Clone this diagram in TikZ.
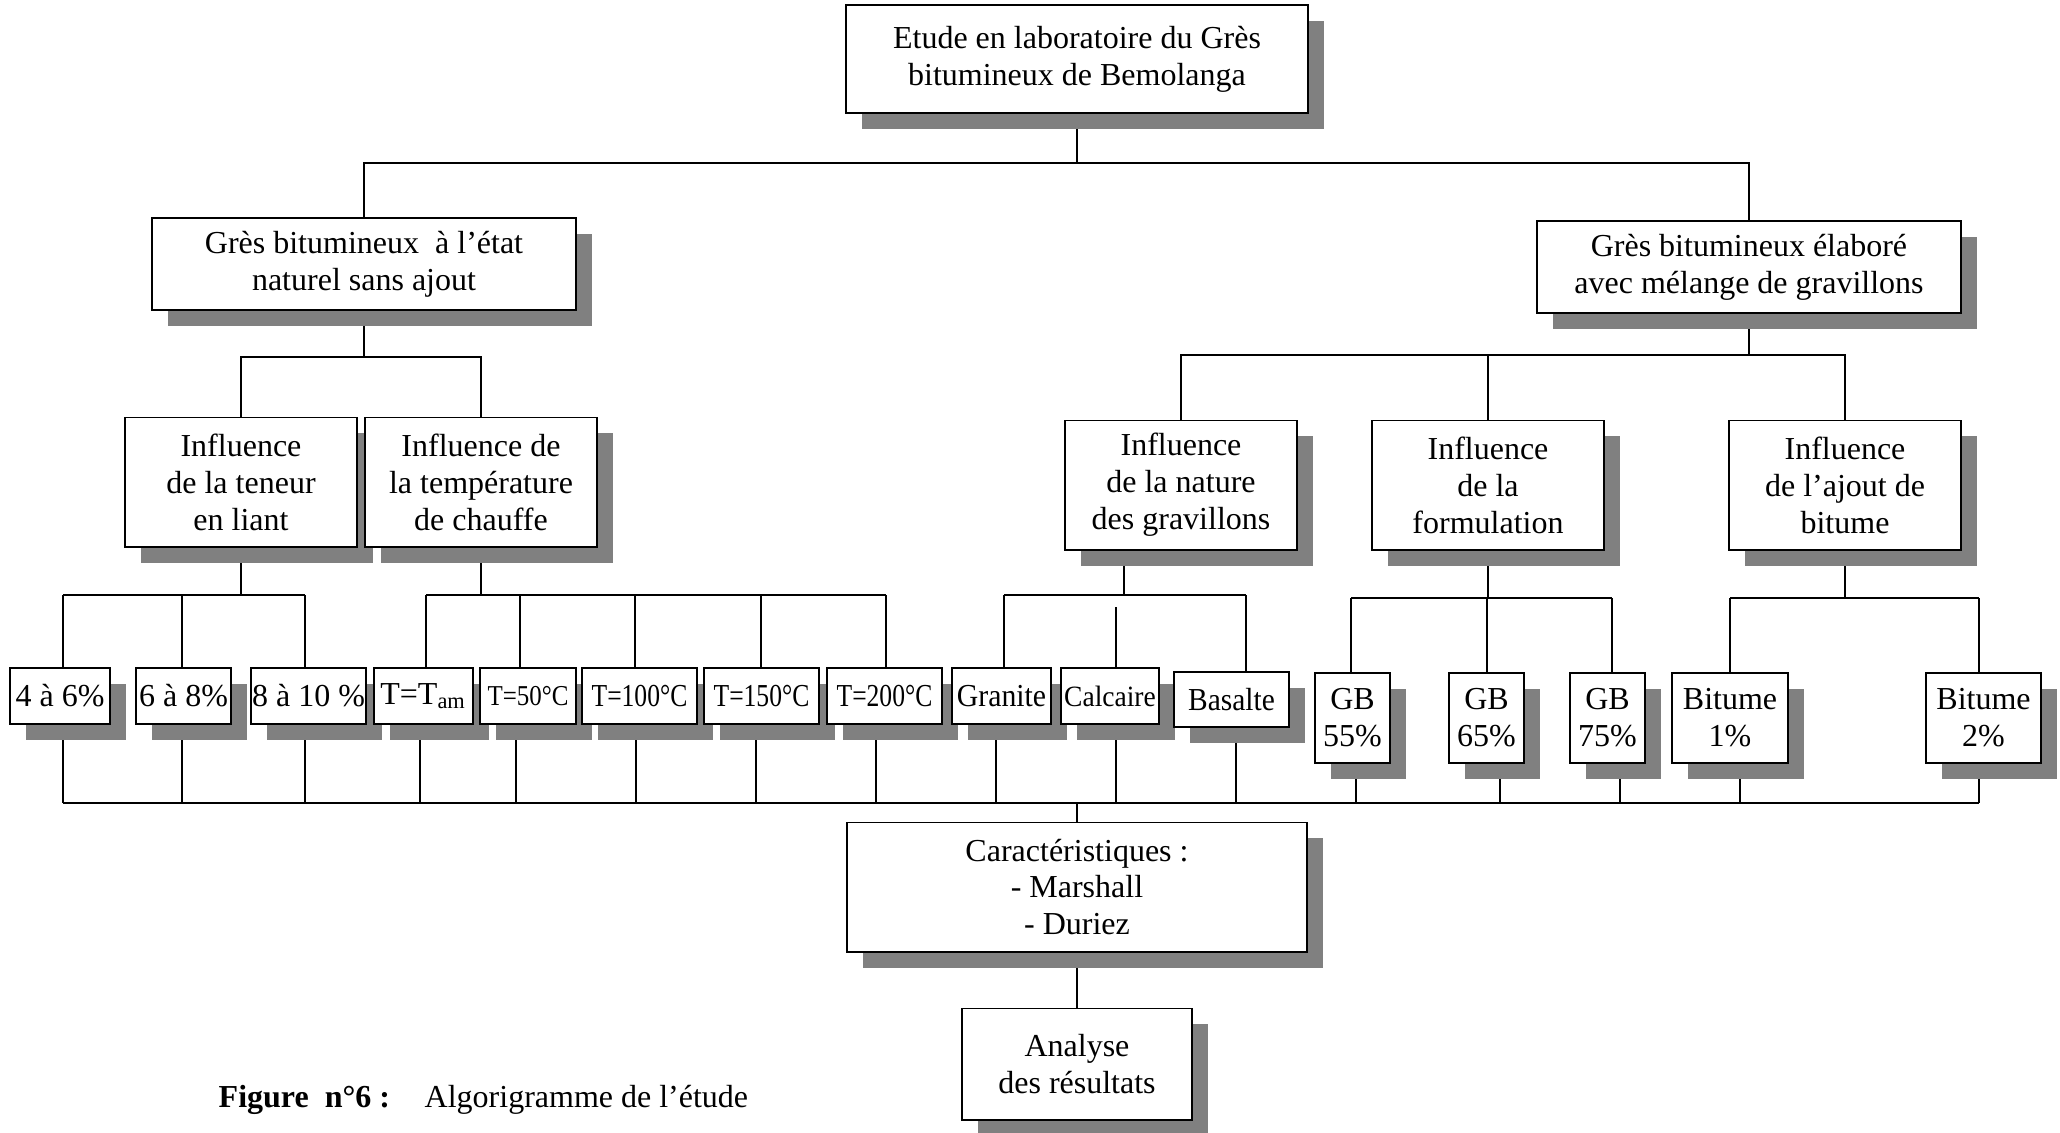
\documentclass[tikz,border=0pt]{standalone}
\usepackage{fontspec}
\setmainfont{Liberation Serif}
\usepackage{graphicx}
\usetikzlibrary{shadows,backgrounds}
\newcommand{\boxfont}{\fontsize{9.1}{10.5}\selectfont}
\newcommand{\squeeze}[2]{\scalebox{#1}[1]{#2}}

\begin{document}
\begin{tikzpicture}[x=0.01cm,y=-0.01cm,
  box/.style={draw, line width=0.55pt, fill=white, inner sep=0pt, align=center, font=\boxfont,
    drop shadow={shadow xshift=0.16cm, shadow yshift=-0.16cm, fill=black!50, opacity=1}},
  infl/.style={box, minimum width=2.31cm, minimum height=1.29cm},
  leaf/.style={box, minimum height=0.56cm},
  tall/.style={box, minimum height=0.90cm},
  link/.style={line width=0.45pt}]
\useasboundingbox (0,0) rectangle (2060,1133);

\node[box, minimum width=4.61cm, minimum height=1.08cm] (etude) at (1077,59) {Etude en laboratoire du Grès\\bitumineux de Bemolanga};
\node[box, minimum width=4.23cm, minimum height=0.92cm] (naturel) at (364,264) {Grès bitumineux\ \ à l’état\\naturel sans ajout};
\node[box, minimum width=4.23cm, minimum height=0.92cm] (melange) at (1749,267) {Grès bitumineux élaboré\\avec mélange de gravillons};

\node[infl] (teneur) at (241,482) {Influence\\de la teneur\\en liant};
\node[infl] (temperature) at (481,482) {Influence de\\la température\\de chauffe};
\node[infl] (nature) at (1181,485) {Influence\\de la nature\\des gravillons};
\node[infl] (formulation) at (1488,485) {Influence\\de la\\formulation};
\node[infl] (ajout) at (1845,485) {Influence\\de l’ajout de\\bitume};

\node[leaf, minimum width=1.00cm] (t46) at (60,696) {4 à 6\%};
\node[leaf, minimum width=0.95cm] (t68) at (183.5,696) {6 à 8\%};
\node[leaf, minimum width=1.15cm] (t810) at (308.5,696) {8 à 10 \%};
\node[leaf, minimum width=0.99cm] (tam) at (423.5,696) {T=T\textsubscript{am}};
\node[leaf, minimum width=0.96cm] (t50) at (528,696) {\scalebox{0.78}[0.9]{T=50°C}};
\node[leaf, minimum width=1.15cm] (t100) at (639.5,696) {\squeeze{0.8}{T=100°C}};
\node[leaf, minimum width=1.15cm] (t150) at (761.5,696) {\squeeze{0.8}{T=150°C}};
\node[leaf, minimum width=1.15cm] (t200) at (884.5,696) {\squeeze{0.8}{T=200°C}};
\node[leaf, minimum width=0.99cm] (granite) at (1001.5,696) {\squeeze{0.93}{Granite}};
\node[leaf, minimum width=0.98cm] (calcaire) at (1110,696) {\scalebox{0.86}[0.92]{Calcaire}};
\node[leaf, minimum width=1.15cm, minimum height=0.55cm] (basalte) at (1231.5,699.5) {\squeeze{0.92}{Basalte}};
\node[tall, minimum width=0.75cm] (gb55) at (1352.5,718) {GB\\55\%};
\node[tall, minimum width=0.75cm] (gb65) at (1486.5,718) {GB\\65\%};
\node[tall, minimum width=0.75cm] (gb75) at (1607.5,718) {GB\\75\%};
\node[tall, minimum width=1.16cm] (bit1) at (1730,718) {Bitume\\1\%};
\node[tall, minimum width=1.15cm] (bit2) at (1983.5,718) {Bitume\\2\%};

\node[box, minimum width=4.60cm, minimum height=1.29cm] (carac) at (1077,887) {Caractéristiques :\\- Marshall\\- Duriez};
\node[box, minimum width=2.30cm, minimum height=1.11cm] (analyse) at (1077,1064) {Analyse\\des résultats};

\node[anchor=base west, inner sep=0pt, font=\boxfont] (figno) at (218,1107) {\textbf{Figure\ \ n°6 :}};
\node[anchor=base west, inner sep=0pt, font=\boxfont] (figtitle) at (424,1107) {Algorigramme de l’étude};

\begin{scope}[on background layer]
\fill[white] (0,0) rectangle (2060,1133);
\coordinate (c0) at (1077,163);
\coordinate (c1) at (364,357);
\coordinate (c2) at (1749,355);
\coordinate (bus) at (1077,803);
\draw[link] (etude) -- (c0);
\draw[link] (naturel) |- (c0) -| (melange);
\draw[link] (naturel) -- (c1);
\draw[link] (teneur) |- (c1) -| (temperature);
\draw[link] (melange) -- (c2);
\draw[link] (nature) |- (c2) -| (ajout);
\draw[link] (formulation) -- (formulation |- c2);

\draw[link] (teneur) -- (teneur |- 0,595);
\draw[link] (63,595) -- (305,595);
\draw[link] (temperature) -- (temperature |- 0,595);
\draw[link] (426,595) -- (886,595);
\draw[link] (1124,0 |- nature.south) -- (1124,595);
\draw[link] (1004,595) -- (1246,595);
\draw[link] (formulation) -- (formulation |- 0,598);
\draw[link] (1351,598) -- (1612,598);
\draw[link] (ajout) -- (ajout |- 0,598);
\draw[link] (1730,598) -- (1979,598);

\foreach \n/\a/\h/\b in {t46/63/595/63, t68/182/595/182, t810/305/595/305, tam/426/595/420,
    t50/520/595/516, t100/635/595/636, t150/761/595/756, t200/886/595/876,
    granite/1004/595/996, calcaire/1116/607/1116, basalte/1246/595/1236,
    gb55/1351/598/1356, gb65/1487/598/1500, gb75/1612/598/1620,
    bit1/1730/598/1740, bit2/1979/598/1979}
{
  \draw[link] (\a,\h) -- (\a,0 |- \n.north);
  \draw[link] (\b,0 |- \n.south) -- (\b,0 |- bus);
}

\draw[link, line width=0.7pt] (63,803) -- (1979,803);
\draw[link] (bus) -- (carac);
\draw[link] (carac) -- (analyse);
\end{scope}
\end{tikzpicture}
\end{document}
